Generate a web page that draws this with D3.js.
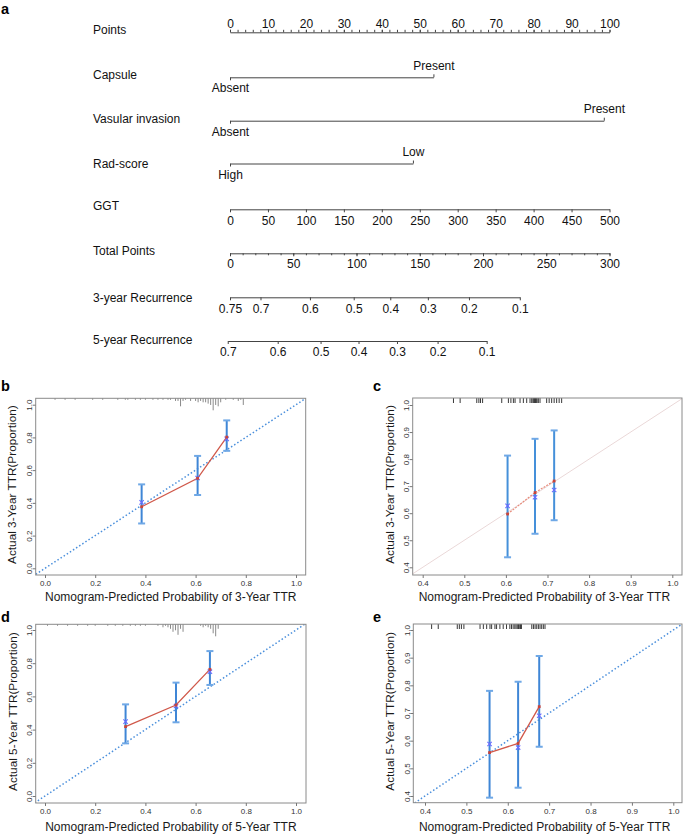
<!DOCTYPE html>
<html><head><meta charset="utf-8">
<script src="https://cdn.jsdelivr.net/npm/d3@7"></script>
<style>
body{margin:0;background:#fff}
svg{display:block}
text{font-family:Arial,"Liberation Sans",Helvetica,sans-serif}
</style>
</head><body>
<script>
// ---------------- Nomogram data ----------------
const rowLabels = ["Points","Capsule","Vasular invasion","Rad-score","GGT","Total Points","3-year Recurrence","5-year Recurrence"];
const pointsTicks = d3.range(0, 101, 10);
const pointsMinor = d3.range(0, 101, 2);
const capsuleLevels = ["Absent","Present"];   const capsulePts = [0, 53.6];
const vascularLevels = ["Absent","Present"];  const vascularPts = [0, 98.5];
const radLevels = ["High","Low"];             const radPts = [0, 48.2];
const ggtTicks = d3.range(0, 501, 50);
const totalTicks = d3.range(0, 301, 50);
const totalMinor = d3.range(0, 301, 10);
const rec3Labels = ["0.75","0.7","0.6","0.5","0.4","0.3","0.2","0.1"];
const rec3Total  = [0, 24.1, 63.2, 97.8, 126.7, 156.4, 188.9, 229.1];
const rec5Labels = ["0.7","0.6","0.5","0.4","0.3","0.2","0.1"];
const rec5Total  = [-1.8, 37.7, 71.6, 101.6, 132.0, 164.1, 202.9];

// ---------------- Calibration data ----------------
// panel b: 3-year, training
const bPred = [0.385, 0.608, 0.724];
const bObs  = [0.376, 0.550, 0.802];
const bKM   = [0.403, 0.552, 0.791];
const bLo   = [0.274, 0.448, 0.718];
const bHi   = [0.513, 0.687, 0.904];
const bRugX = [0.04,0.08,0.12,0.19,0.23,0.29,0.32,0.33,0.36,0.38,0.40,0.43,0.45,0.47,0.49,0.50,0.52,0.53,0.54,0.55,0.56,0.58,0.60,0.61,0.62,0.63,0.64,0.65,0.66,0.67,0.68,0.69,0.70,0.72,0.75,0.77,0.78,0.79];
const bRugN = [1,1,1,1,1,1,1,1,1,1,1,1,1,1,1,1,2,2,6,2,1,2,2,3,2,3,3,4,5,9,5,6,3,1,1,2,1,5];
// panel c: 3-year, validation
const cPred = [0.604, 0.670, 0.716];
const cObs  = [0.597, 0.676, 0.719];
const cKM   = [0.627, 0.659, 0.686];
const cLo   = [0.437, 0.524, 0.574];
const cHi   = [0.813, 0.875, 0.906];
const cRug  = [0.474,0.490,0.530,0.535,0.539,0.544,0.590,0.606,0.612,0.618,0.622,0.634,0.642,0.650,0.658,0.662,0.665,0.667,0.669,0.671,0.673,0.675,0.678,0.682,0.698,0.704,0.710,0.716,0.722,0.728,0.734];
// panel d: 5-year, training
const dPred = [0.321, 0.522, 0.657];
const dObs  = [0.418, 0.548, 0.763];
const dKM   = [0.448, 0.542, 0.749];
const dLo   = [0.317, 0.444, 0.669];
const dHi   = [0.552, 0.683, 0.873];
const dRugX = [0.01,0.05,0.09,0.13,0.17,0.20,0.25,0.28,0.31,0.34,0.36,0.38,0.40,0.45,0.47,0.48,0.49,0.50,0.51,0.52,0.53,0.54,0.55,0.62,0.63,0.64,0.65,0.66,0.67,0.68,0.69];
const dRugN = [1,1,1,1,1,1,1,1,1,1,1,1,1,1,2,1,2,3,5,4,7,3,5,1,2,1,2,3,6,8,3];
// panel e: 5-year, validation
const ePred = [0.556, 0.625, 0.676];
const eObs  = [0.557, 0.590, 0.723];
const eKM   = [0.588, 0.575, 0.690];
const eLo   = [0.394, 0.430, 0.578];
const eHi   = [0.780, 0.813, 0.906];
const eRug  = [0.416,0.432,0.478,0.483,0.488,0.494,0.533,0.541,0.549,0.557,0.561,0.569,0.573,0.581,0.589,0.597,0.605,0.609,0.613,0.617,0.620,0.623,0.626,0.629,0.631,0.633,0.658,0.662,0.666,0.670,0.674,0.678,0.682,0.686,0.690];

const fullTicks = [0, 0.2, 0.4, 0.6, 0.8, 1.0];
const partTicks = [0.4, 0.5, 0.6, 0.7, 0.8, 0.9, 1.0];

// ---------------- Drawing ----------------
const svg = d3.select("body").append("svg").attr("width", 685).attr("height", 835);
const FONT = 'Arial,"Liberation Sans",Helvetica,sans-serif';
const LINE = "#444";

// panel letters
[["a",1,14],["b",1,391],["c",373,391],["d",1,622],["e",373,622]].forEach(([t,x,y]) =>
  svg.append("text").attr("x",x).attr("y",y).attr("font-size",14.5).attr("font-weight","bold").text(t));

// nomogram scales
const ptsX = d3.scaleLinear().domain([0,100]).range([230, 609.5]);
const totX = d3.scaleLinear().domain([0,300]).range([230, 609.5]);
const ggtX = d3.scaleLinear().domain([0,500]).range([230, 609.5]);

const rowY = [32.3, 77.3, 120.7, 163.5, 209.3, 253.3, 297.3, 341];
const labelY = [33.5, 78.5, 123, 168, 210, 255, 302, 343.5];
rowLabels.forEach((t,i) => svg.append("text").attr("x",93).attr("y",labelY[i]).attr("font-size",12).attr("fill","#111").text(t));

function styleAxis(g){
  g.attr("color", LINE).attr("font-family", FONT).attr("font-size", 12);
  g.selectAll("text").attr("fill","#111");
  g.select(".domain").attr("stroke-width",1);
  g.selectAll(".tick line").attr("stroke-width",1);
}

// Points
svg.append("g").attr("transform",`translate(0,${rowY[0]})`)
  .call(d3.axisTop(ptsX).tickValues(pointsMinor).tickSize(2.5).tickSizeOuter(0).tickFormat(""))
  .call(styleAxis);
svg.append("g").attr("transform",`translate(0,${rowY[0]})`)
  .call(d3.axisTop(ptsX).tickValues(pointsTicks).tickSize(2.5).tickSizeOuter(0).tickPadding(1.5))
  .call(styleAxis).call(g=>g.select(".domain").remove());

// categorical rows
function catRow(levels, pts, y){
  const s = d3.scaleLinear().domain(d3.extent(pts)).range(d3.extent(pts).map(ptsX));
  svg.append("g").attr("transform",`translate(0,${y})`)
    .call(d3.axisBottom(s).tickValues([pts[0]]).tickFormat(()=>levels[0]).tickSize(3).tickSizeOuter(0).tickPadding(3.5))
    .call(styleAxis);
  svg.append("g").attr("transform",`translate(0,${y})`)
    .call(d3.axisTop(s).tickValues([pts[1]]).tickFormat(()=>levels[1]).tickSize(3).tickSizeOuter(0).tickPadding(4.5))
    .call(styleAxis).call(g=>g.select(".domain").remove());
}
catRow(capsuleLevels, capsulePts, rowY[1]);
catRow(vascularLevels, vascularPts, rowY[2]);
catRow(radLevels, radPts, rowY[3]);

// GGT
svg.append("g").attr("transform",`translate(0,${rowY[4]})`)
  .call(d3.axisBottom(ggtX).tickValues(ggtTicks).tickSize(3).tickSizeOuter(0).tickPadding(4.2))
  .call(styleAxis);
// Total points
svg.append("g").attr("transform",`translate(0,${rowY[5]})`)
  .call(d3.axisBottom(totX).tickValues(totalMinor).tickSize(2).tickSizeOuter(0).tickFormat(""))
  .call(styleAxis);
svg.append("g").attr("transform",`translate(0,${rowY[5]})`)
  .call(d3.axisBottom(totX).tickValues(totalTicks).tickSize(3).tickSizeOuter(0).tickPadding(3.5))
  .call(styleAxis).call(g=>g.select(".domain").remove());

// recurrence axes
function recRow(labels, totals, y, pad){
  const ext = d3.extent(totals);
  const s = d3.scaleLinear().domain(ext).range(ext.map(totX));
  svg.append("g").attr("transform",`translate(0,${y})`)
    .call(d3.axisBottom(s).tickValues(totals).tickFormat((d,i)=>labels[i]).tickSize(3).tickSizeOuter(0).tickPadding(pad))
    .call(styleAxis);
}
recRow(rec3Labels, rec3Total, rowY[6], 4.5);
recRow(rec5Labels, rec5Total, rowY[7], 3.5);

// ---------------- calibration panels ----------------
function calPanel(o){
  const g = svg.append("g");
  const x = d3.scaleLinear().domain(o.dom).range(o.xr);
  const y = d3.scaleLinear().domain(o.dom).range(o.yr);
  const [L,R,T,B] = o.box;
  const id = "clip_" + o.key;
  svg.append("clipPath").attr("id", id).append("rect").attr("x",L).attr("y",T).attr("width",R-L).attr("height",B-T);

  // diagonal ideal line
  const diag = g.append("line").attr("clip-path",`url(#${id})`)
    .attr("x1",x(-1)).attr("y1",y(-1)).attr("x2",x(2)).attr("y2",y(2));
  if (o.diagStyle === "blue") diag.attr("stroke","#4a8fdc").attr("stroke-width",1.5).attr("stroke-dasharray","1.5,2.2");
  else diag.attr("stroke","#ead8d8").attr("stroke-width",1);

  // rug
  if (o.rugN){
    const h = d3.scaleLinear().domain([0, d3.max(o.rugN)]).range([0, 12]);
    g.selectAll(null).data(o.rugX).join("line")
      .attr("x1",d=>x(d)).attr("x2",d=>x(d)).attr("y1",T).attr("y2",(d,i)=>T+Math.max(1.5,h(o.rugN[i])))
      .attr("stroke","#8a8a8a").attr("stroke-width",1);
  } else {
    g.selectAll(null).data(o.rugX).join("line")
      .attr("x1",d=>x(d)).attr("x2",d=>x(d)).attr("y1",T).attr("y2",T+5)
      .attr("stroke","#222").attr("stroke-width",0.9);
  }

  // error bars
  const eb = g.append("g").attr("stroke", o.ebColor).attr("stroke-width",2);
  o.pred.forEach((p,i)=>{
    eb.append("line").attr("x1",x(p)).attr("x2",x(p)).attr("y1",y(o.lo[i])).attr("y2",y(o.hi[i]));
    eb.append("line").attr("x1",x(p)-3.5).attr("x2",x(p)+3.5).attr("y1",y(o.lo[i])).attr("y2",y(o.lo[i])).attr("stroke","#6fa8e6");
    eb.append("line").attr("x1",x(p)-3.5).attr("x2",x(p)+3.5).attr("y1",y(o.hi[i])).attr("y2",y(o.hi[i])).attr("stroke","#6fa8e6");
  });

  // calibration line
  const pts = o.pred.map((p,i)=>[p, o.obs[i]]);
  const path = g.append("path").datum(pts)
    .attr("d", d3.line().x(d=>x(d[0])).y(d=>y(d[1])))
    .attr("fill","none");
  if (o.redLight) path.attr("stroke","#e88c7c").attr("stroke-width",1.2).attr("stroke-dasharray","2,1.2");
  else path.attr("stroke","#d0584a").attr("stroke-width",1.3);

  // KM estimates (blue x)
  g.selectAll(null).data(o.pred).join("path")
    .attr("transform",(d,i)=>`translate(${x(d)},${y(o.km[i])})`)
    .attr("d", d3.symbol(d3.symbolX, 14)())
    .attr("stroke","#6a6aff").attr("stroke-width",1.1).attr("fill","none");
  // predicted points (red)
  g.selectAll(null).data(pts).join("rect")
    .attr("x",d=>x(d[0])-1.4).attr("y",d=>y(d[1])-1.4).attr("width",2.8).attr("height",2.8)
    .attr("fill","#c9443a");

  // box
  g.append("rect").attr("x",L).attr("y",T).attr("width",R-L).attr("height",B-T)
    .attr("fill","none").attr("stroke","#8a8a8a").attr("stroke-width",1);

  // x axis
  const ax = g.append("g").attr("transform",`translate(0,${B})`)
    .call(d3.axisBottom(x).tickValues(o.ticks).tickFormat(d3.format(".1f")).tickSize(3).tickPadding(2.5));
  ax.select(".domain").remove();
  ax.attr("color","#777").attr("font-family",FONT).attr("font-size",8);
  ax.selectAll("text").attr("fill","#333");
  // y axis
  const ay = g.append("g").attr("transform",`translate(${L},0)`)
    .call(d3.axisLeft(y).tickValues(o.ticks).tickFormat(d3.format(".1f")).tickSize(3));
  ay.select(".domain").remove();
  ay.attr("color","#777").attr("font-family",FONT).attr("font-size",8);
  ay.selectAll("text").attr("fill","#333").attr("x",null).attr("dy",null)
    .attr("text-anchor","middle").attr("transform","translate(-3.8,0) rotate(-90)");

  // titles
  const cx = (L+R)/2, cy = (T+B)/2;
  g.append("text").attr("x",cx - o.xtShift).attr("y",o.xtY).attr("text-anchor","middle")
    .attr("font-size",12).attr("fill","#1a1a1a").text(o.xTitle);
  g.append("text").attr("transform",`translate(${o.ytX},${cy-2}) rotate(-90)`).attr("text-anchor","middle")
    .attr("font-size",11.8).attr("fill","#1a1a1a").text(o.yTitle);
}

calPanel({key:"b", dom:[0,1], xr:[45,296], yr:[568.3,404.7], box:[35.7,305.7,398.3,575],
  pred:bPred, obs:bObs, km:bKM, lo:bLo, hi:bHi, rugX:bRugX, rugN:bRugN, ticks:fullTicks,
  diagStyle:"blue", ebColor:"#3f86d6", redLight:false, xtShift:0, xtY:601, ytX:15.5,
  xTitle:"Nomogram-Predicted Probability of 3-Year TTR", yTitle:"Actual 3-Year TTR(Proportion)"});
calPanel({key:"c", dom:[0.4,1], xr:[422.7,672.3], yr:[567.3,405], box:[412.7,682,398,575],
  pred:cPred, obs:cObs, km:cKM, lo:cLo, hi:cHi, rugX:cRug, rugN:null, ticks:partTicks,
  diagStyle:"light", ebColor:"#4590da", redLight:true, xtShift:3, xtY:601, ytX:393.5,
  xTitle:"Nomogram-Predicted Probability of 3-Year TTR", yTitle:"Actual 3-Year TTR(Proportion)"});
calPanel({key:"d", dom:[0,1], xr:[45,296], yr:[796,630], box:[35.7,306,624.3,803],
  pred:dPred, obs:dObs, km:dKM, lo:dLo, hi:dHi, rugX:dRugX, rugN:dRugN, ticks:fullTicks,
  diagStyle:"blue", ebColor:"#3f86d6", redLight:false, xtShift:0, xtY:831, ytX:16.5,
  xTitle:"Nomogram-Predicted Probability of 5-Year TTR", yTitle:"Actual 5-Year TTR(Proportion)"});
calPanel({key:"e", dom:[0.4,1], xr:[425,673.3], yr:[796,630], box:[413.3,682,624,802.7],
  pred:ePred, obs:eObs, km:eKM, lo:eLo, hi:eHi, rugX:eRug, rugN:null, ticks:partTicks,
  diagStyle:"blue", ebColor:"#3f86d6", redLight:false, xtShift:3, xtY:831, ytX:393.5,
  xTitle:"Nomogram-Predicted Probability of 5-Year TTR", yTitle:"Actual 5-Year TTR(Proportion)"});
</script>
</body></html>
